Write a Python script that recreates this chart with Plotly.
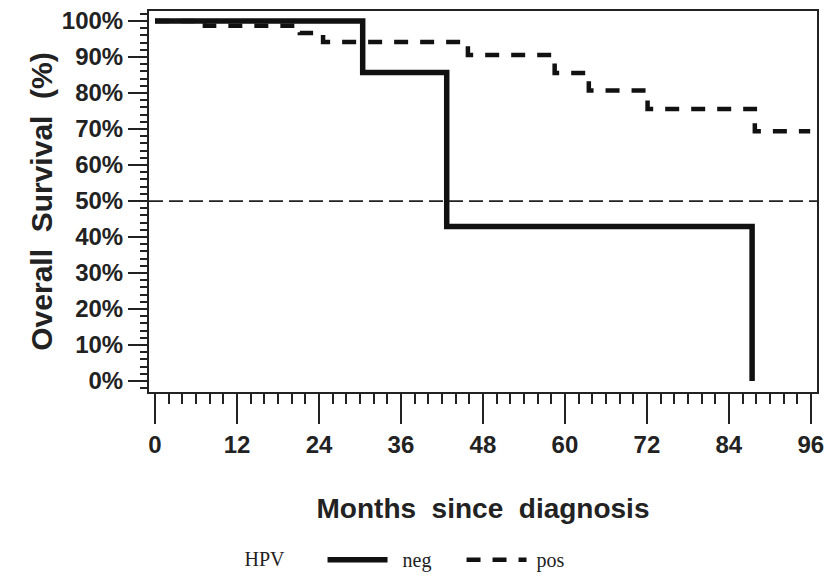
import plotly.graph_objects as go

# Data
neg_months = [0, 30.4, 42.7, 87.4]
neg_surv = [100, 85.7, 42.9, 0]

pos_months = [0, 7.3, 21.2, 24.6, 45.8, 58.5, 63.5, 72.1, 87.8, 95.9]
pos_surv = [100, 98.7, 96.7, 94.2, 90.6, 85.6, 80.7, 75.6, 69.4, 69.4]

x_ticks = [0, 12, 24, 36, 48, 60, 72, 84, 96]
y_ticks = [0, 10, 20, 30, 40, 50, 60, 70, 80, 90, 100]
y_tick_labels = [f"{v}%" for v in y_ticks]
ref_level = 50

SANS = "Liberation Sans, Arial, sans-serif"
SERIF = "Liberation Serif, Times New Roman, serif"
NB = "\u00a0"

fig = go.Figure()
fig.add_trace(go.Scatter(
    x=pos_months, y=pos_surv, mode="lines", name=NB + "pos",
    line=dict(shape="hv", color="#111111", width=4.5, dash="14px,12px"),
))
fig.add_trace(go.Scatter(
    x=neg_months, y=neg_surv, mode="lines", name=NB * 2 + "neg",
    line=dict(shape="hv", color="#111111", width=5.5),
))
fig.add_hline(y=ref_level, line=dict(color="#222222", width=1.8, dash="14px,6px"))

fig.update_layout(
    width=832, height=575,
    margin=dict(l=149, r=15, t=11, b=183, autoexpand=False),
    plot_bgcolor="white", paper_bgcolor="white",
    legend=dict(
        orientation="h", x=0.14, xanchor="left", y=-0.44, yanchor="middle",
        title=dict(text="HPV" + NB * 6, side="left",
                   font=dict(family=SERIF, size=20, color="#222")),
        font=dict(family=SERIF, size=20, color="#222"),
        itemwidth=60, traceorder="reversed",
        entrywidth=64, entrywidthmode="pixels",
    ),
    xaxis=dict(
        range=[-0.88, 96.9], tickvals=x_ticks, ticks="outside", ticklen=30,
        tickwidth=2, tickcolor="#222", automargin=False,
        minor=dict(dtick=2, ticklen=10, ticks="outside", tickwidth=1.6, tickcolor="#222"),
        showline=True, linecolor="#222", linewidth=2, mirror=True,
        showgrid=False, zeroline=False,
        tickfont=dict(family=SANS, size=24, color="#222", weight="bold"),
        title=dict(text="Months  since  diagnosis", standoff=42,
                   font=dict(family=SANS, size=28, color="#222", weight="bold")),
    ),
    yaxis=dict(
        range=[-3.06, 102.8], tickvals=y_ticks, ticktext=y_tick_labels,
        ticks="outside", ticklen=19, automargin=False,
        tickwidth=2, tickcolor="#222",
        minor=dict(dtick=2, ticklen=7, ticks="outside", tickwidth=1.6, tickcolor="#222"),
        showline=True, linecolor="#222", linewidth=2, mirror=True,
        showgrid=False, zeroline=False,
        tickfont=dict(family=SANS, size=24, color="#222", weight="bold"),
        title=dict(text="Overall  Survival  (%)", standoff=0,
                   font=dict(family=SANS, size=30, color="#222", weight="bold")),
    ),
)

fig.write_html("out.html")
